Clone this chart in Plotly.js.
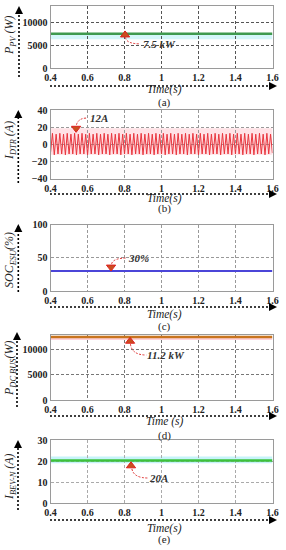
<!DOCTYPE html>
<html>
<head>
<meta charset="utf-8">
<script src="https://cdn.plot.ly/plotly-3.0.1.min.js"></script>
<style>
html,body{margin:0;padding:0;background:#fff;}
#chart{width:286px;height:550px;}
</style>
</head>
<body>
<div id="chart"></div>
<script>
// ---------------- data ----------------
const xTickVals = [0.4, 0.6, 0.8, 1.0, 1.2, 1.4, 1.6];
const xTickText = ["0.4", "0.6", "0.8", "1", "1.2", "1.4", "1.6"];

const pvTime = [0.4, 1.6];
const pvPower = [7500, 7500];

const dtrTime = [
  0.40,0.41,0.42,0.43,0.44,0.45,0.46,0.47,0.48,0.49,
  0.50,0.51,0.52,0.53,0.54,0.55,0.56,0.57,0.58,0.59,
  0.60,0.61,0.62,0.63,0.64,0.65,0.66,0.67,0.68,0.69,
  0.70,0.71,0.72,0.73,0.74,0.75,0.76,0.77,0.78,0.79,
  0.80,0.81,0.82,0.83,0.84,0.85,0.86,0.87,0.88,0.89,
  0.90,0.91,0.92,0.93,0.94,0.95,0.96,0.97,0.98,0.99,
  1.00,1.01,1.02,1.03,1.04,1.05,1.06,1.07,1.08,1.09,
  1.10,1.11,1.12,1.13,1.14,1.15,1.16,1.17,1.18,1.19,
  1.20,1.21,1.22,1.23,1.24,1.25,1.26,1.27,1.28,1.29,
  1.30,1.31,1.32,1.33,1.34,1.35,1.36,1.37,1.38,1.39,
  1.40,1.41,1.42,1.43,1.44,1.45,1.46,1.47,1.48,1.49,
  1.50,1.51,1.52,1.53,1.54,1.55,1.56,1.57,1.58,1.59,
  1.60
];
const dtrCurrent = [
  -9, 13,-12, 12,-11, 13,-11, 12,-12, 13,
  -11, 12,-11, 13,-12, 12,-11, 13,-11, 12,
  -12, 13,-11, 12,-11, 13,-12, 12,-11, 13,
  -11, 12,-12, 13,-11, 12,-11, 13,-12, 12,
  -11, 13,-11, 12,-12, 13,-11, 12,-11, 13,
  -12, 12,-11, 13,-11, 12,-12, 13,-11, 12,
  -11, 13,-12, 12,-11, 13,-11, 12,-12, 13,
  -11, 12,-11, 13,-12, 12,-11, 13,-11, 12,
  -12, 13,-11, 12,-11, 13,-12, 12,-11, 13,
  -11, 12,-12, 13,-11, 12,-11, 13,-12, 12,
  -11, 13,-11, 12,-12, 13,-11, 12,-11, 13,
  -12, 12,-11, 13,-11, 12,-12, 13,-11, 12,
  -10
];

const socTime = [0.4, 1.6];
const socEsu = [30, 30];

const busTime = [0.4, 1.6];
const dcBusPower = [12400, 12400];

const bevTime = [0.4, 1.6];
const bevCurrent = [20.3, 20.3];

// callout markers (triangles) and labels
const calloutX = [0.803, 0.538, 0.727, 0.83, 0.835];
const calloutY = [7250, 18.8, 36, 11580, 17.8];
const calloutSymbol = ["triangle-up", "triangle-down", "triangle-down", "triangle-up", "triangle-up"];
const calloutText = ["7.5 kW", "12A", "30%", "11.2 kW", "20A"];
const calloutTextX = [0.99, 0.662, 0.873, 1.024, 0.986];
const calloutTextY = [5260, 30.7, 49.6, 8880, 12];

const yTitles = ["P<sub>PV</sub> (W)", "I<sub>DTR</sub> (A)", "SOC<sub>ESU</sub>(%)", "P<sub>DC BUS</sub>(W)", "I<sub>BEV-N</sub> (A)"];
const xTitles = ["Time(s)", "Time(s)", "Time(s)", "Time (s)", "Time(s)"];
const panelLabels = ["(a)", "(b)", "(c)", "(d)", "(e)"];

const yRanges = [[0, 13600], [-40.05, 40.05], [0, 100.1], [0, 12900], [0, 30.05]];
const yTickVals = [[0, 5000, 10000], [-40, -20, 0, 20, 40], [0, 50, 100], [0, 5000, 10000], [0, 10, 20, 30]];

// ---------------- layout geometry ----------------
const W = 286, H = 550;
const px = v => v / W;
const py = v => 1 - v / H;
const plotTop = [6, 110, 224.5, 334.5, 440];
const plotBot = [68, 179, 291, 400.3, 503.3];
const xDom = [50.5 / W, 272.5 / W];
const gridCol = ["#555", "#999", "#999", "#777", "#aaa"];
const yTitleY = [35, 141, 260, 369, 477];
const yArrowX = [19, 18.3, 18.3, 17, 18];
const yArrowTop = [7, 111, 225, 333, 441];
const yArrowBot = [77, 183, 292, 407, 510];
const xArrowY = [86, 194, 307, 416, 520];
const xTitleY = [90, 198.5, 314.5, 421.5, 528.5];
const panelLabelY = [103, 208, 326, 435, 539];

const serif = "Liberation Serif, Times New Roman, serif";

const lineColors = ["#3f9a4f", "#e8363e", "#4b45d8", "#c8741e", "#3cc23c"];
const series = [
  [pvTime, pvPower, 2.5],
  [dtrTime, dtrCurrent, 1],
  [socTime, socEsu, 2],
  [busTime, dcBusPower, 2.5],
  [bevTime, bevCurrent, 2.5]
];

const traces = [];
const layout = {
  width: W, height: H,
  margin: {l: 0, r: 0, t: 0, b: 0},
  paper_bgcolor: "#fff",
  plot_bgcolor: "#fff",
  showlegend: false,
  annotations: [],
  shapes: []
};

for (let i = 0; i < 5; i++) {
  const s = i === 0 ? "" : String(i + 1);
  const xa = "x" + s, ya = "y" + s;
  traces.push({
    x: series[i][0], y: series[i][1], type: "scatter", mode: "lines",
    xaxis: xa, yaxis: ya,
    line: {color: lineColors[i], width: series[i][2]},
    hoverinfo: "skip"
  });
  traces.push({
    x: [calloutX[i]], y: [calloutY[i]], type: "scatter", mode: "markers",
    xaxis: xa, yaxis: ya,
    marker: {symbol: calloutSymbol[i], size: 8, color: "#c8501e", line: {color: "#e02020", width: 1}},
    hoverinfo: "skip"
  });
  layout["xaxis" + s] = {
    domain: xDom, anchor: ya, range: [0.3995, 1.6005],
    tickmode: "array", tickvals: xTickVals, ticktext: xTickText,
    ticks: "", showgrid: true, gridcolor: gridCol[i], griddash: "3px,2px", gridwidth: 1,
    zeroline: false, showline: true, mirror: true, linecolor: "#9a9a9a", linewidth: 1,
    tickfont: {family: serif, size: 10, color: "#222", weight: "bold"},
    fixedrange: true
  };
  layout["yaxis" + s] = {
    domain: [py(plotBot[i]), py(plotTop[i])], anchor: xa, range: yRanges[i],
    tickmode: "array", tickvals: yTickVals[i], tickformat: "d",
    ticks: "", showgrid: true, gridcolor: gridCol[i], griddash: "3px,2px", gridwidth: 1,
    zeroline: false, showline: true, mirror: true, linecolor: "#9a9a9a", linewidth: 1,
    tickfont: {family: serif, size: 10, color: "#222", weight: "bold"},
    fixedrange: true
  };
  // callout text
  layout.annotations.push({
    xref: xa, yref: ya, x: calloutTextX[i], y: calloutTextY[i],
    xanchor: "center", yanchor: "middle",
    text: "<b><i>" + calloutText[i] + "</i></b>", showarrow: false,
    font: {family: serif, size: 11, color: "#333"}
  });
  // y title
  layout.annotations.push({
    xref: "paper", yref: "paper", x: px(10), y: py(yTitleY[i]),
    xanchor: "center", yanchor: "middle",
    text: "<i>" + yTitles[i] + "</i>", showarrow: false, textangle: -90,
    font: {family: serif, size: 12, color: "#222"}
  });
  // x title
  layout.annotations.push({
    xref: "paper", yref: "paper", x: px(165), y: py(xTitleY[i]),
    xanchor: "center", yanchor: "middle",
    text: "<i>" + xTitles[i] + "</i>", showarrow: false,
    font: {family: serif, size: 11.5, color: "#222"}
  });
  // panel label
  layout.annotations.push({
    xref: "paper", yref: "paper", x: px(165), y: py(panelLabelY[i]),
    xanchor: "center", yanchor: "middle",
    text: panelLabels[i], showarrow: false,
    font: {family: serif, size: 11, color: "#222"}
  });
  // arrow heads
  layout.annotations.push({
    xref: "paper", yref: "paper", x: px(277), y: py(xArrowY[i]), ax: -9, ay: 0,
    text: "", showarrow: true, arrowhead: 2, arrowsize: 1, arrowwidth: 1.6, arrowcolor: "#000"
  });
  layout.annotations.push({
    xref: "paper", yref: "paper", x: px(yArrowX[i]), y: py(yArrowTop[i] - 1), ax: 0, ay: 9,
    text: "", showarrow: true, arrowhead: 2, arrowsize: 1, arrowwidth: 1.6, arrowcolor: "#000"
  });
  // dotted axis arrows
  layout.shapes.push({
    type: "line", xref: "paper", yref: "paper",
    x0: px(50), x1: px(272), y0: py(xArrowY[i]), y1: py(xArrowY[i]),
    line: {color: "#000", width: 1.6, dash: "2px,2px"}
  });
  layout.shapes.push({
    type: "line", xref: "paper", yref: "paper",
    x0: px(yArrowX[i]), x1: px(yArrowX[i]), y0: py(yArrowBot[i]), y1: py(yArrowTop[i] + 6),
    line: {color: "#000", width: 1.6, dash: "2px,2px"}
  });
}

// faint highlight bands seen in the figure
const bands = [
  ["x", "y", 6300, 7500, "rgba(160,235,245,0.45)"],
  ["x2", "y2", -12, 19, "rgba(255,190,200,0.45)"],
  ["x4", "y4", 11800, 12400, "rgba(255,180,190,0.6)"],
  ["x5", "y5", 19, 22.2, "rgba(160,235,245,0.6)"]
];
bands.forEach(b => layout.shapes.push({
  type: "rect", xref: b[0], yref: b[1], x0: 0.4, x1: 1.6, y0: b[2], y1: b[3],
  fillcolor: b[4], line: {width: 0}, layer: "below"
}));

// dashed leader curves from triangles to callout labels
const leaders = [
  ["x", "y", "M 0.805,6700 Q 0.81,5300 0.885,5300"],
  ["x2", "y2", "M 0.54,23 Q 0.55,30.7 0.598,30.7"],
  ["x3", "y3", "M 0.73,41 Q 0.74,49.6 0.812,49.6"],
  ["x4", "y4", "M 0.832,11000 Q 0.84,8880 0.918,8880"],
  ["x5", "y5", "M 0.84,16.3 Q 0.85,12 0.928,12"]
];
leaders.forEach(l => layout.shapes.push({
  type: "path", xref: l[0], yref: l[1], path: l[2],
  line: {color: "#e03030", width: 1, dash: "2px,1.5px"}
}));

Plotly.newPlot("chart", traces, layout, {staticPlot: true, displayModeBar: false});
</script>
</body>
</html>
